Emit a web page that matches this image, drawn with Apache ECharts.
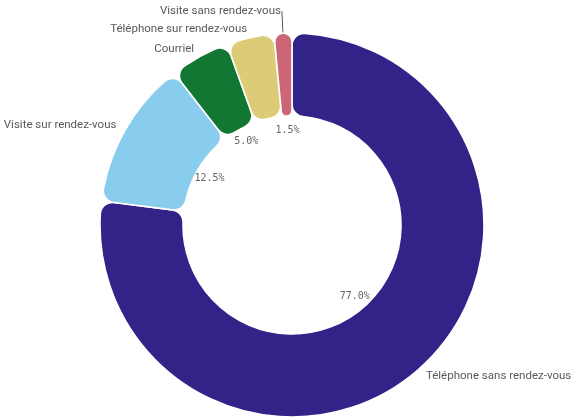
<!DOCTYPE html>
<html>
<head>
<meta charset="utf-8">
<script src="https://cdn.jsdelivr.net/npm/echarts@6/dist/echarts.min.js"></script>
<style>
html,body{margin:0;padding:0;background:#fff;}
#chart{width:572px;height:419px;}
</style>
</head>
<body>
<div id="chart"></div>
<script>
const categories = ['Téléphone sans rendez-vous', 'Visite sur rendez-vous', 'Courriel', 'Téléphone sur rendez-vous', 'Visite sans rendez-vous'];
const values = [77.0, 12.5, 5.0, 4.0, 1.5];
const colors = ['#332288', '#88CCEE', '#117733', '#DDCC77', '#CC6677'];
const showPercent = [true, true, true, false, true];

const chart = echarts.init(document.getElementById('chart'));
const center = [292, 225];

const mainData = categories.map((name, i) => ({
  name: name,
  value: values[i],
  itemStyle: { color: colors[i] },
  labelLine: i === 4 ? { show: true, length: 22, length2: 0 } : { show: false, length: 9, length2: 0 }
}));

const innerData = categories.map((name, i) => ({
  name: name,
  value: values[i],
  label: { show: showPercent[i] }
}));

chart.setOption({
  animation: false,
  series: [
    {
      type: 'pie',
      center: center,
      radius: [109, 192],
      startAngle: 90,
      clockwise: true,
      avoidLabelOverlap: false,
      silent: true,
      itemStyle: { borderRadius: 12, borderColor: '#ffffff', borderWidth: 1.6 },
      label: {
        show: true,
        position: 'outside',
        formatter: '{b}',
        fontFamily: 'Roboto',
        fontSize: 11.5,
        color: '#595959',
        overflow: 'none',
        distanceToLabelLine: 1
      },
      labelLine: {
        lineStyle: { color: '#595959', width: 1 }
      },
      data: mainData
    },
    {
      type: 'pie',
      center: center,
      radius: [82, 102],
      startAngle: 90,
      clockwise: true,
      silent: true,
      itemStyle: { color: 'rgba(0,0,0,0)' },
      label: {
        position: 'inside',
        formatter: p => p.value.toFixed(1) + '%',
        fontFamily: 'DejaVu Sans Mono',
        fontSize: 10,
        color: '#666666'
      },
      labelLine: { show: false },
      data: innerData
    }
  ]
});
</script>
</body>
</html>
